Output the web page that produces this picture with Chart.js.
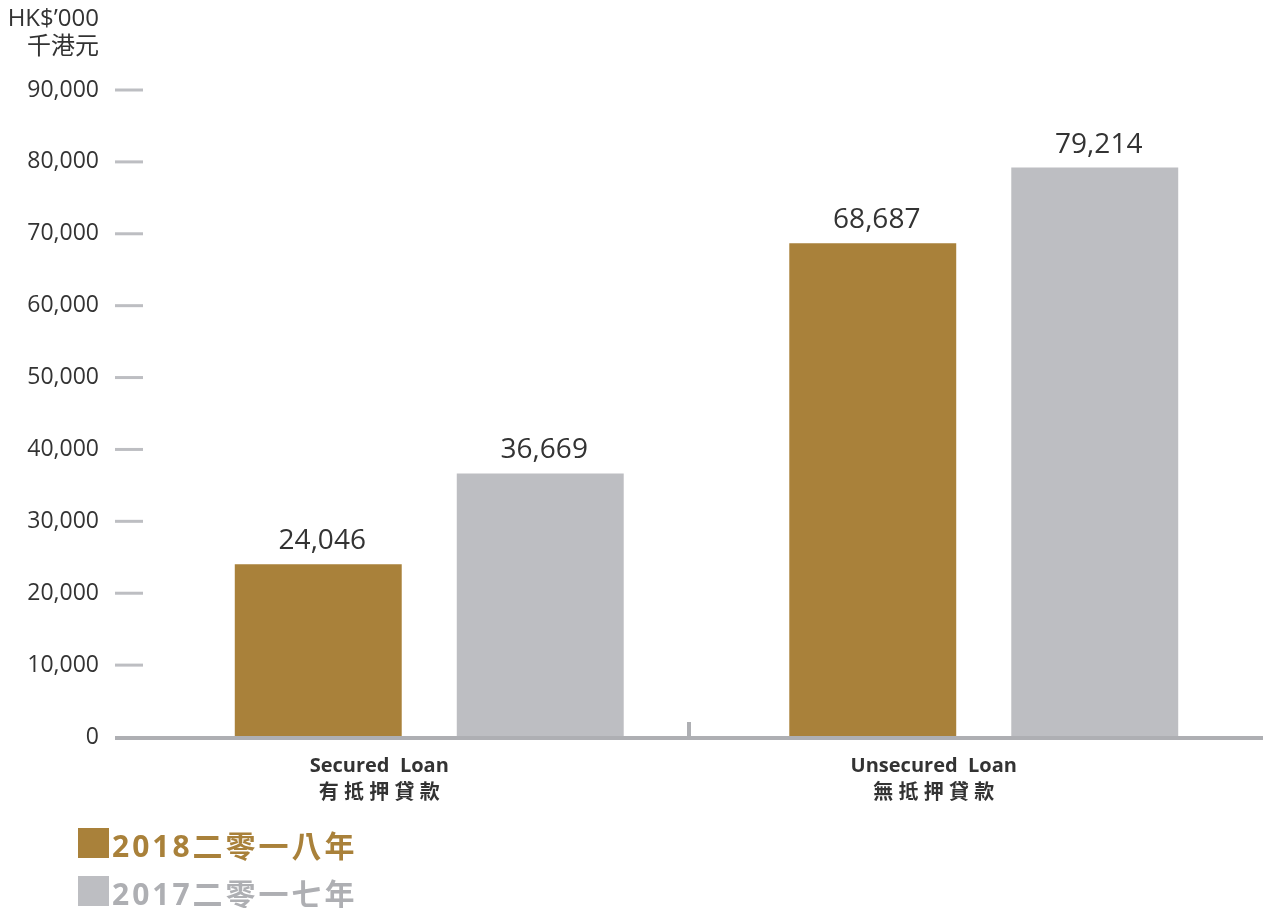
<!DOCTYPE html>
<html>
<head>
<meta charset="utf-8">
<script src="https://cdn.jsdelivr.net/npm/chart.js@4"></script>
<style>
  body { margin: 0; background: #fff; }
  canvas { display: block; }
</style>
</head>
<body>
<canvas id="loanChart" width="1263" height="908"></canvas>
<script>
const categories = [["Secured  Loan", "有 抵 押 貸 款"], ["Unsecured  Loan", "無 抵 押 貸 款"]];
const values2018 = [24046, 68687];
const values2017 = [36669, 79214];
const seriesNames = ["2018二零一八年", "2017二零一七年"];
const unitLines = ["HK$\u2019000", "千港元"];

const gold = "#a9813a";
const grey = "#bdbec2";
const greyText = "#aeafb3";
const axisGrey = "#aeafb3";
const textDark = "#333333";
const fontFamily = "'Open Sans', 'Noto Sans CJK TC', sans-serif";

const extras = {
    id: "extras",
    afterDatasetsDraw(chart) {
        const ctx = chart.ctx;
        const area = chart.chartArea;
        const y = chart.scales.y;
        ctx.save();

        // value labels on top of bars
        ctx.font = "28px " + fontFamily;
        ctx.fillStyle = textDark;
        ctx.textAlign = "center";
        ctx.textBaseline = "alphabetic";
        chart.data.datasets.forEach((ds, i) => {
            chart.getDatasetMeta(i).data.forEach((bar, j) => {
                ctx.fillText(ds.data[j].toLocaleString("en-US"), bar.x + 4, bar.y - 15);
            });
        });

        // short dashes next to y labels
        ctx.strokeStyle = grey;
        ctx.lineWidth = 3;
        y.ticks.forEach(t => {
            if (t.value === 0) return;
            const py = y.getPixelForValue(t.value);
            ctx.beginPath();
            ctx.moveTo(area.left - 37, py);
            ctx.lineTo(area.left - 9, py);
            ctx.stroke();
        });

        // base line and middle separator
        const y0 = y.getPixelForValue(0);
        const x0 = area.left - 37;
        ctx.fillStyle = axisGrey;
        ctx.fillRect(x0, y0 - 1, chart.width - x0, 4);
        const mid = (x0 + chart.width) / 2;
        ctx.fillRect(mid - 2, y0 - 15, 4, 15);

        // unit text
        ctx.font = "24px " + fontFamily;
        ctx.fillStyle = textDark;
        ctx.textAlign = "right";
        ctx.fillText(unitLines[0], 99, 26);
        ctx.fillText(unitLines[1], 99, 54);

        // legend
        ctx.textAlign = "left";
        ctx.font = "bold 30px " + fontFamily;
        ctx.letterSpacing = "3px";
        const legendText = [gold, greyText];
        chart.data.datasets.forEach((ds, i) => {
            const top = 828 + i * 48;
            ctx.fillStyle = ds.backgroundColor;
            ctx.fillRect(78, top, 31, 30);
            ctx.fillStyle = legendText[i];
            ctx.fillText(ds.label, 112, top + 29);
        });
        ctx.restore();
    }
};

new Chart(document.getElementById("loanChart"), {
    type: "bar",
    data: {
        labels: categories,
        datasets: [
            {
                label: seriesNames[0],
                data: values2018,
                backgroundColor: gold
            },
            {
                label: seriesNames[1],
                data: values2017,
                backgroundColor: grey
            }
        ]
    },
    options: {
        responsive: false,
        animation: false,
        categoryPercentage: 0.8007,
        barPercentage: 0.752,
        layout: {
            padding: { top: 90, right: 2, left: 0, bottom: 0 }
        },
        scales: {
            x: {
                grid: { display: false, drawTicks: false },
                border: { display: false },
                afterFit(scale) { scale.height = 171; },
                ticks: {
                    padding: 16,
                    labelOffset: -50,
                    color: textDark,
                    font: { family: fontFamily, size: 20, weight: "bold", lineHeight: 1.35 }
                }
            },
            y: {
                min: 0,
                max: 90000,
                grid: { display: false, drawTicks: false },
                border: { display: false },
                afterFit(scale) { scale.width = 152; },
                ticks: {
                    stepSize: 10000,
                    padding: 53,
                    color: textDark,
                    font: { family: fontFamily, size: 23 },
                    callback: v => v.toLocaleString("en-US")
                }
            }
        },
        plugins: {
            legend: { display: false },
            tooltip: { enabled: false }
        }
    },
    plugins: [extras]
});
</script>
</body>
</html>
